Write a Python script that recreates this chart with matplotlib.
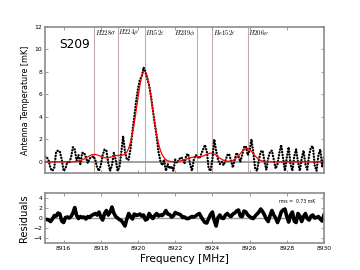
import numpy as np
import matplotlib
matplotlib.use("Agg")
import matplotlib.pyplot as plt

# Spectrum of S209, sampled every 0.1 MHz from 8915.0 to 8930.0 MHz
freq_start = 8915.0
freq_step = 0.1

temp = [
    0.5, 0.4, 0.1, -0.6, -0.8, -0.5, 0.9, 1.0, 0.9, 0.2,
    -0.8, -0.6, 0.0, -0.1, 0.4, 1.3, 1.1, 0.1, 0.6, -0.2,
    0.8, 0.8, 0.4, -0.1, 0.3, 0.4, 0.5, 0.2, -0.5, -0.8,
    -0.3, 0.6, 1.1, 1.0, -0.1, -0.8, -0.3, 0.8, 0.2, -0.8,
    -0.5, 0.8, 2.3, 0.9, 0.2, 0.2, 1.2, 2.7, 4.0, 5.4,
    6.5, 7.3, 7.6, 8.4, 8.0, 7.4, 6.8, 5.8, 4.6, 3.4,
    2.3, 0.9, 0.1, -0.3, 0.2, -0.8, -0.2, -0.6, -0.4, -0.8,
    0.2, -0.1, 0.2, 0.4, 0.3, -0.1, 0.6, 0.7, -0.2, -0.8,
    0.2, 0.6, 0.5, 0.3, 0.7, 1.1, 1.5, 0.9, -0.6, -0.8,
    0.2, 2.0, 1.0, 0.2, -0.2, 0.0, -0.3, 0.1, 0.6, 0.7,
    0.1, -0.5, 0.2, 0.8, 0.5, 0.0, 0.6, 1.3, 1.4, 0.6,
    1.0, 2.0, 0.8, -0.6, -0.8, 0.2, 0.9, 1.0, 0.0, -0.7,
    0.3, 0.9, 1.0, 0.2, -0.6, -0.2, 0.8, 1.5, 0.3, -0.8,
    0.4, 1.3, -0.2, -0.8, 0.5, 1.1, 0.0, -0.8, 0.3, 1.0,
    -0.2, -0.7, 0.6, 1.3, 1.4, -0.3, -0.8, 0.6, 1.1, -0.4,
    0.5,
]

fit = [
    0.00, 0.00, 0.00, 0.00, 0.00, 0.00, 0.00, 0.00, 0.00, 0.00,
    0.00, 0.00, 0.00, 0.00, 0.00, 0.01, 0.02, 0.04, 0.07, 0.11,
    0.17, 0.25, 0.35, 0.44, 0.54, 0.61, 0.65, 0.66, 0.62, 0.56,
    0.49, 0.42, 0.37, 0.35, 0.36, 0.40, 0.45, 0.51, 0.55, 0.57,
    0.58, 0.59, 0.61, 0.69, 0.87, 1.22, 1.76, 2.52, 3.47, 4.58,
    5.73, 6.79, 7.60, 8.04, 8.04, 7.60, 6.79, 5.72, 4.56, 3.43,
    2.45, 1.64, 1.04, 0.62, 0.36, 0.19, 0.10, 0.05, 0.03, 0.02,
    0.02, 0.03, 0.05, 0.09, 0.13, 0.18, 0.24, 0.30, 0.36, 0.40,
    0.42, 0.43, 0.43, 0.44, 0.46, 0.51, 0.59, 0.67, 0.74, 0.78,
    0.76, 0.69, 0.59, 0.46, 0.33, 0.22, 0.14, 0.08, 0.05, 0.05,
    0.07, 0.12, 0.21, 0.35, 0.52, 0.73, 0.93, 1.09, 1.19, 1.19,
    1.09, 0.93, 0.73, 0.52, 0.35, 0.21, 0.12, 0.06, 0.03, 0.01,
    0.00, 0.00, 0.00, 0.00, 0.00, 0.00, 0.00, 0.00, 0.00, 0.00,
    0.00, 0.00, 0.00, 0.00, 0.00, 0.00, 0.00, 0.00, 0.00, 0.00,
    0.00, 0.00, 0.00, 0.00, 0.00, 0.00, 0.00, 0.00, 0.00, 0.00,
    0.00,
]

resid = [
    -0.25, -0.3, -0.4, -0.7, -0.2, 0.5, 0.4, 1.0, 0.8, -0.6,
    -0.9, 0.1, 0.2, 0.0, 0.3, 1.0, 2.1, 0.5, -0.1, 0.3,
    0.1, 0.2, -0.2, 0.3, 0.1, 0.5, 0.7, 0.9, 0.6, 1.2,
    0.2, -0.4, 0.9, 1.5, 0.6, 1.2, 2.2, 1.0, 0.3, 0.0,
    -0.3, -0.5, -1.0, -1.6, -0.2, 0.9, 0.3, -0.2, 0.8, 0.5,
    0.6, 0.8, 0.4, 0.6, -0.4, -0.2, 0.9, 0.3, -0.1, 0.5,
    0.9, 0.4, 0.6, 0.5, 0.9, 1.5, 0.8, 0.7, 0.2, 0.4,
    1.1, 0.9, 0.8, 0.6, 0.1, 0.2, -0.1, -0.1, 0.1, 0.3,
    0.2, 0.4, 0.7, 0.9, 0.2, -0.4, -0.9, -1.0, -0.1, 0.7,
    1.2, -0.5, -1.6, 0.1, 0.6, 0.0, -0.1, 0.6, 0.9, 0.5,
    0.3, 0.8, 1.0, 1.4, 1.6, 0.4, 0.3, 1.4, 1.2, 0.6,
    0.3, 0.0, -0.1, 0.4, 0.8, 1.2, 1.8, 1.3, 0.6, -0.2,
    -0.7, 0.5, 1.5, 0.6, 0.0, -0.9, 0.0, 1.2, 1.6, 1.8,
    0.3, -0.8, 0.6, 1.2, -0.6, -0.9, 0.9, 0.4, -0.7, 0.3,
    0.9, -0.1, -0.4, 0.4, 0.6, 0.0, 0.1, 0.3, -0.2, -0.6,
    0.6,
]

# recombination lines marked in the band
line_freqs = [8917.65, 8918.9, 8920.35, 8923.15, 8924.0, 8925.9]
line_names = [r"$H228\sigma$", r"$H224\rho$", r"$H152\epsilon$",
              r"$H239\phi$", r"$He152\epsilon$", r"$H206\nu$"]
label_side = ["right", "right", "right", "left", "right", "right"]

source = "S209"
rms_text = "rms =  0.73 mK"

freq = freq_start + freq_step * np.arange(len(temp))

plt.rcParams["mathtext.fontset"] = "cm"
spine_col = "#8c8c8c"

fig = plt.figure(figsize=(3.6, 2.7), dpi=100)
ax1 = fig.add_axes([0.125, 0.359, 0.775, 0.541])
ax2 = fig.add_axes([0.125, 0.100, 0.775, 0.185])

for ax in (ax1, ax2):
    for s in ax.spines.values():
        s.set_color(spine_col)
        s.set_linewidth(1.2)
    ax.tick_params(direction="in", length=2.5, width=0.6, color=spine_col,
                   labelsize=4.3, pad=2, top=True, right=True)
    ax.set_xlim(8915, 8930)
    ax.set_xticks(range(8916, 8931, 2))

# top panel
for f, name, side in zip(line_freqs, line_names, label_side):
    ax1.axvline(f, color="#c4adad", lw=0.8, zorder=1)
    if side == "right":
        ax1.text(f + 0.04, 11.9, name, fontsize=4.8, ha="left", va="top")
    else:
        ax1.text(f - 0.06, 11.9, name, fontsize=4.8, ha="right", va="top")
ax1.axhline(0, color="#999999", lw=1.3, zorder=1)
ax1.plot(freq, temp, color="k", lw=1.7, linestyle=(0, (0.1, 1.15)),
         dash_capstyle="round", zorder=2)
ax1.plot(freq, fit, color="red", lw=0.9, zorder=3)
ax1.set_ylim(-1, 12)
ax1.set_yticks(range(0, 13, 2))
ax1.set_xticklabels([])
ax1.set_ylabel("Antenna Temperature [mK]", fontsize=5.8, labelpad=3)
ax1.text(0.05, 0.877, source, transform=ax1.transAxes, fontsize=8.7,
         ha="left", va="center")

# residuals
ax2.axhline(0, color="#999999", lw=1.0, zorder=1)
ax2.plot(freq, resid, color="k", lw=2.6, zorder=2)
ax2.set_ylim(-5, 5)
ax2.set_yticks(range(-4, 5, 2))
ax2.set_ylabel("Residuals", fontsize=7.2, labelpad=3)
ax2.set_xlabel("Frequency [MHz]", fontsize=7.6, labelpad=2)
ax2.text(0.97, 0.83, rms_text, transform=ax2.transAxes, fontsize=3.3,
         ha="right", va="center")

plt.savefig("out.png", dpi=100)
